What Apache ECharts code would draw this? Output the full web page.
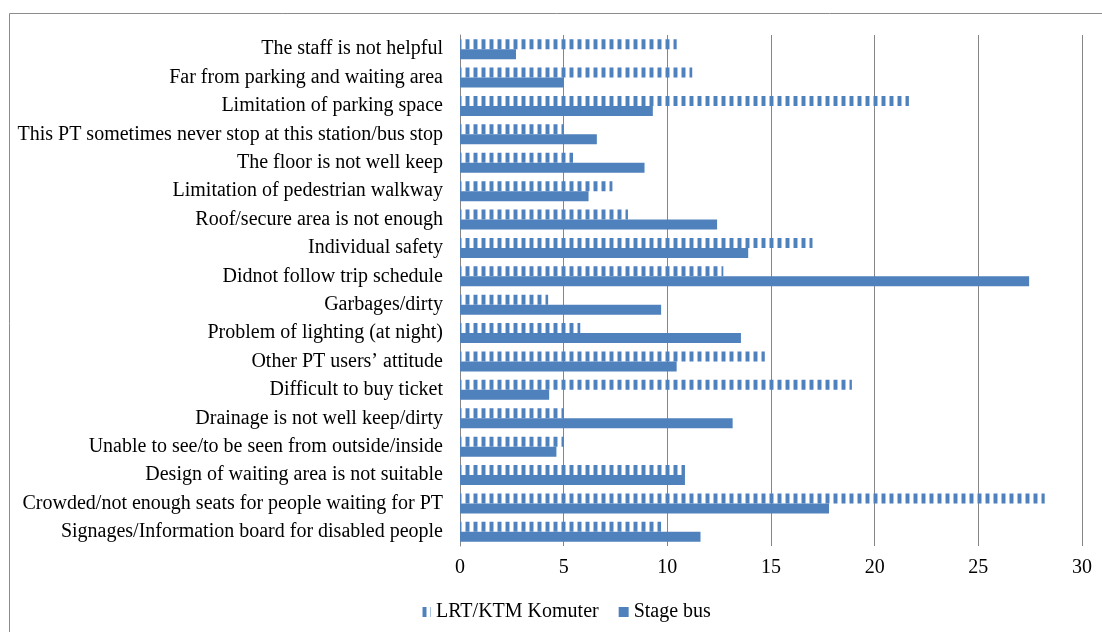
<!DOCTYPE html>
<html>
<head>
<meta charset="utf-8">
<script src="https://cdn.jsdelivr.net/npm/echarts@6/dist/echarts.min.js"></script>
<style>
  html, body { margin: 0; padding: 0; background: #ffffff; }
  #chart { width: 1102px; height: 632px; }
</style>
</head>
<body>
<div id="chart"></div>
<script>
// Problems reported at stops/stations, listed bottom row first
const categories = [
  'Signages/Information board for disabled people',
  'Crowded/not enough seats for people waiting for PT',
  'Design of waiting area is not suitable',
  'Unable to see/to be seen from outside/inside',
  'Drainage is not well keep/dirty',
  'Difficult to buy ticket',
  'Other PT users\u2019 attitude',
  'Problem of lighting (at night)',
  'Garbages/dirty',
  'Didnot follow trip schedule',
  'Individual safety',
  'Roof/secure area is not enough',
  'Limitation of pedestrian walkway',
  'The floor is not well keep',
  'This PT sometimes never stop at this station/bus stop',
  'Limitation of parking space',
  'Far from parking and waiting area',
  'The staff is not helpful'
];
const lrtKtm = [9.7, 28.2, 10.85, 5.0, 5.0, 18.9, 14.7, 5.8, 4.25, 12.7, 17.0, 8.1, 7.35, 5.45, 5.0, 21.65, 11.2, 10.45];
const stageBus = [11.6, 17.8, 10.85, 4.65, 13.15, 4.3, 10.45, 13.55, 9.7, 27.45, 13.9, 12.4, 6.2, 8.9, 6.6, 9.3, 5.0, 2.7];
const xTicks = { min: 0, max: 30, interval: 5 };
const seriesNames = ['LRT/KTM Komuter', 'Stage bus'];

const BLUE = '#4f81bd';

// vertical stripe fill for the rail series
function stripePattern() {
  const c = document.createElement('canvas');
  c.width = 8; c.height = 16;
  const g = c.getContext('2d');
  g.fillStyle = '#ffffff';
  g.fillRect(0, 0, 8, 16);
  g.fillStyle = '#a9c2e0';
  g.fillRect(1, 0, 1, 16);
  g.fillRect(5, 0, 1, 16);
  g.fillStyle = BLUE;
  g.fillRect(2, 0, 3, 16);
  return c;
}
const stripes = { image: stripePattern(), repeat: 'repeat' };

const chart = echarts.init(document.getElementById('chart'), null, { renderer: 'canvas' });
const FONT = "'Liberation Serif', 'DejaVu Serif', serif";
const FS = 20;

chart.setOption({
  animation: false,
  backgroundColor: '#ffffff',
  textStyle: { fontFamily: FONT },
  graphic: [{
    type: 'rect',
    shape: { x: 9.5, y: 13.5, width: 1200, height: 700 },
    style: { fill: 'none', stroke: '#8c8c8c', lineWidth: 1 },
    silent: true
  }],
  grid: { left: 460, right: 20, top: 35, bottom: 86, containLabel: false },
  legend: {
    data: seriesNames,
    bottom: 5,
    left: 416,
    itemWidth: 10,
    itemHeight: 10,
    itemGap: 20,
    icon: 'rect',
    textStyle: { fontFamily: FONT, fontSize: FS, color: '#000000' }
  },
  xAxis: {
    type: 'value',
    min: xTicks.min,
    max: xTicks.max,
    interval: xTicks.interval,
    axisLine: { show: false },
    axisTick: { show: false },
    axisLabel: { fontFamily: FONT, fontSize: FS, color: '#000000', margin: 12 },
    splitLine: { show: true, lineStyle: { color: '#868686', width: 1 } }
  },
  yAxis: {
    type: 'category',
    data: categories,
    axisLine: { show: true, lineStyle: { color: '#868686' } },
    axisTick: { show: false },
    axisLabel: { fontFamily: FONT, fontSize: FS, color: '#000000', margin: 17, interval: 0, padding: [0, 0, 8, 0] },
    splitLine: { show: false }
  },
  series: [
    {
      name: seriesNames[0],
      type: 'bar',
      data: lrtKtm,
      barWidth: 10,
      barGap: '0%',
      itemStyle: { color: stripes }
    },
    {
      name: seriesNames[1],
      type: 'bar',
      data: stageBus,
      barWidth: 10,
      barGap: '0%',
      itemStyle: { color: BLUE }
    }
  ]
});
</script>
</body>
</html>
